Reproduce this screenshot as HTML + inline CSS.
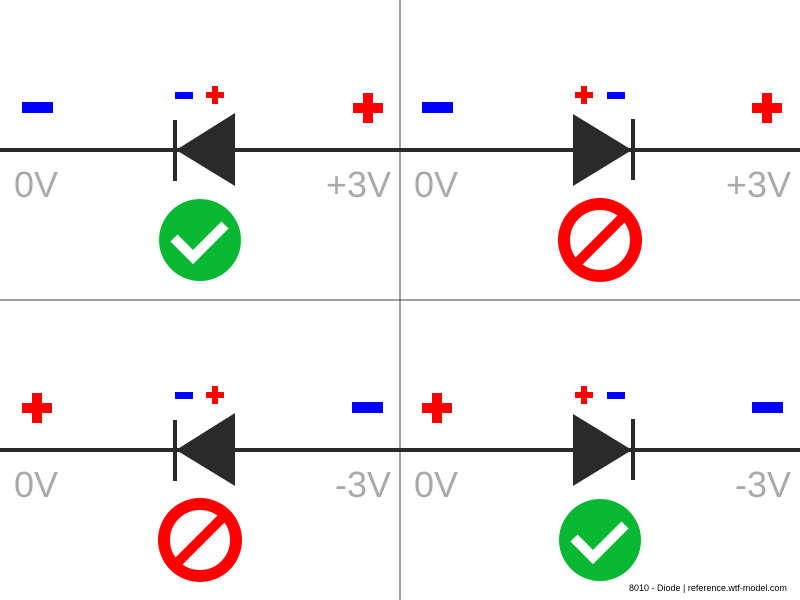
<!DOCTYPE html>
<html><head><meta charset="utf-8"><style>
html,body{margin:0;padding:0;background:#fff;width:800px;height:600px;overflow:hidden}
svg{display:block}
text{font-family:"Liberation Sans",sans-serif}
</style></head><body>
<svg width="800" height="600" viewBox="0 0 800 600" xmlns="http://www.w3.org/2000/svg">
<defs>
<g id="wire"><rect x="0" y="148" width="400" height="4" fill="#2a2a2a"/></g>
<g id="bigplus"><rect x="-15" y="-5" width="30" height="10" fill="#f00"/><rect x="-5" y="-15" width="10" height="30" fill="#f00"/></g>
<g id="smallplus"><rect x="-9" y="-3" width="18" height="6" fill="#f00"/><rect x="-3" y="-9" width="6" height="18" fill="#f00"/></g>
<g id="rev">
<rect x="173" y="120" width="4" height="61" fill="#2a2a2a"/>
<polygon points="176,150 235,113 235,186" fill="#2a2a2a"/>
<rect x="175" y="92" width="18" height="7" fill="#00f"/>
<use href="#smallplus" x="215" y="95"/>
</g>
<g id="fwd">
<polygon points="573,114 573,186 632,150" fill="#2a2a2a"/>
<rect x="631" y="119" width="4" height="61" fill="#2a2a2a"/>
<rect x="607" y="92" width="18" height="7" fill="#00f"/>
<use href="#smallplus" x="584" y="95"/>
</g>
<g id="ok">
<circle cx="0" cy="0" r="41" fill="#08b833"/>
<polyline points="-26,-2 -7,17 25,-15" fill="none" stroke="#fff" stroke-width="10"/>
</g>
<g id="no">
<circle cx="0" cy="0" r="36" fill="none" stroke="#f00" stroke-width="12"/>
<line x1="-26" y1="26" x2="26" y2="-26" stroke="#f00" stroke-width="10"/>
</g>
</defs>
<rect x="399.5" y="0" width="1" height="600" fill="#444"/>
<rect x="0" y="299.5" width="800" height="1" fill="#444"/>

<!-- top left -->
<use href="#wire"/>
<use href="#rev"/>
<rect x="22" y="102" width="31" height="11" fill="#00f"/>
<use href="#bigplus" x="368" y="108"/>
<text x="14" y="197" font-size="36" fill="#aaa">0V</text>
<text x="391" y="197" font-size="36" fill="#aaa" text-anchor="end">+3V</text>
<use href="#ok" x="200" y="240"/>

<!-- top right -->
<use href="#wire" x="400"/>
<use href="#fwd"/>
<rect x="422" y="102" width="31" height="11" fill="#00f"/>
<use href="#bigplus" x="767" y="108"/>
<text x="414" y="197" font-size="36" fill="#aaa">0V</text>
<text x="791" y="197" font-size="36" fill="#aaa" text-anchor="end">+3V</text>
<use href="#no" x="600" y="240"/>

<!-- bottom left -->
<use href="#wire" y="300"/>
<use href="#rev" y="300"/>
<use href="#bigplus" x="37" y="408"/>
<rect x="352" y="402" width="31" height="11" fill="#00f"/>
<text x="14" y="497" font-size="36" fill="#aaa">0V</text>
<text x="391" y="497" font-size="36" fill="#aaa" text-anchor="end">-3V</text>
<use href="#no" x="200" y="540"/>

<!-- bottom right -->
<use href="#wire" x="400" y="300"/>
<use href="#fwd" y="300"/>
<use href="#bigplus" x="437" y="408"/>
<rect x="752" y="402" width="31" height="11" fill="#00f"/>
<text x="414" y="497" font-size="36" fill="#aaa">0V</text>
<text x="791" y="497" font-size="36" fill="#aaa" text-anchor="end">-3V</text>
<use href="#ok" x="600" y="540"/>

<rect x="625" y="578" width="175" height="22" fill="#fff"/>
<text x="629" y="591" font-size="9" fill="#000">8010 - Diode | reference.wtf-model.com</text>
</svg>
</body></html>
